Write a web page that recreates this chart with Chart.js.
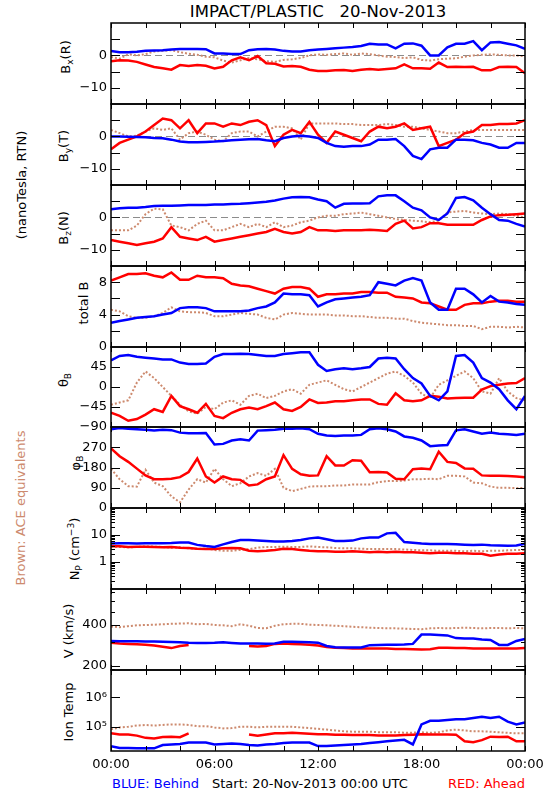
<!DOCTYPE html>
<html><head><meta charset="utf-8">
<script src="https://cdn.jsdelivr.net/npm/chart.js@4.4.1/dist/chart.umd.min.js"></script>
<style>
body{margin:0;background:#fff;}
#wrap{position:relative;width:550px;height:800px;overflow:hidden;background:#fff;font-family:"DejaVu Sans",sans-serif;color:#000;}
#wrap canvas{position:absolute;left:0;}
.t{position:absolute;white-space:pre;transform:translate(-50%,-50%);font-size:13px;line-height:1;}
.r{transform:translate(-50%,-50%) rotate(-90deg);}
.t sub{font-size:70%;vertical-align:-0.35em;line-height:0;}
.t sup{font-size:70%;vertical-align:0.55em;line-height:0;}
</style></head>
<body><div id="wrap">
<div class="t" style="left:318px;top:12px;font-size:16.5px">IMPACT/PLASTIC   20-Nov-2013</div>
<div class="t r" style="left:21px;top:185px">(nanoTesla, RTN)</div>
<div class="t r" style="left:20px;top:508px;color:#cd8a6e">Brown: ACE equivalents</div>
<div class="t r" style="left:65px;top:57px">B<sub>x</sub>(R)</div>
<div class="t r" style="left:63px;top:146px">B<sub>y</sub>(T)</div>
<div class="t r" style="left:63px;top:228px">B<sub>z</sub>(N)</div>
<div class="t r" style="left:83px;top:303px">total B</div>
<div class="t r" style="left:63px;top:380px">θ<sub>B</sub></div>
<div class="t r" style="left:75px;top:463px">φ<sub>B</sub></div>
<div class="t r" style="left:74px;top:549px">N<sub>P</sub> (cm<sup>−3</sup>)</div>
<div class="t r" style="left:68px;top:631px">V (km/s)</div>
<div class="t r" style="left:68px;top:712px">Ion Temp</div>
<div class="t" style="left:112px;top:783px;transform:translate(0,-50%);color:#0000ff">BLUE: Behind</div>
<div class="t" style="left:212px;top:783px;transform:translate(0,-50%)">Start: 20-Nov-2013 00:00 UTC</div>
<div class="t" style="left:525px;top:783px;transform:translate(-100%,-50%);color:#ff0000">RED: Ahead</div>
</div>
<script>
// ---------- time axis (hours after 20-Nov-2013 00:00 UTC) ----------
const HOURS = [0,0.5,1,1.5,2,2.5,3,3.5,4,4.5,5,5.5,6,6.5,7,7.5,8,8.5,9,9.5,10,10.5,11,11.5,12,12.5,13,13.5,14,14.5,15,15.5,16,16.5,17,17.5,18,18.5,19,19.5,20,20.5,21,21.5,22,22.5,23,23.5,24];
const X_TICK_HOURS = [0,2,4,6,8,10,12,14,16,18,20,22,24];
const X_LABEL_HOURS = [0,6,12,18,24];
const X_LABELS = ["00:00","06:00","12:00","18:00","00:00"];

// ---------- Bx (R) ----------
const BX_BLUE = [1.4,1.0,1.0,1.1,1.4,1.5,1.6,1.8,2.0,2.0,2.0,1.9,0.6,0.6,0.4,0.4,1.6,1.9,2.0,1.8,1.4,1.2,1.2,1.6,1.8,2.0,2.2,2.4,2.6,2.9,3.6,3.4,3.4,2.2,3.6,3.7,3.0,0.0,0.0,2.5,3.6,3.6,4.4,1.6,4.0,4.1,3.6,3.1,2.0];
const BX_RED = [-1.8,-1.5,-1.6,-2.0,-2.8,-3.6,-4.0,-4.4,-3.0,-3.3,-3.0,-3.2,-4.0,-3.5,-1.5,-0.6,-1.5,-0.2,-2.4,-2.6,-3.4,-3.3,-3.5,-4.4,-4.8,-4.8,-4.6,-4.5,-4.8,-4.4,-4.2,-4.4,-4.2,-4.0,-2.8,-4.0,-4.0,-4.1,-2.2,-3.6,-3.5,-3.6,-3.5,-4.6,-4.6,-3.6,-3.5,-3.6,-5.5];
const BX_ACE = [-0.5,-1.0,0.3,0.0,0.4,1.2,1.4,1.6,1.0,0.5,0.2,-0.4,-0.6,-1.6,-2.2,-1.5,-0.8,-1.2,-1.8,-2.0,-1.4,-1.2,-0.8,0.0,0.3,0.2,0.4,0.6,0.2,0.6,0.4,0.0,-0.4,-0.5,-0.8,-0.6,-1.4,-1.6,-1.2,-1.0,-0.9,-0.4,0.0,0.2,0.3,0.2,0.0,0.0,-0.3];

// ---------- By (T) ----------
const BY_BLUE = [0.0,0.0,-0.1,-0.2,-0.3,-0.5,-0.6,-1.0,-1.6,-1.8,-1.8,-1.7,-1.6,-1.4,-1.2,-1.0,-0.9,-0.8,-1.2,-1.5,-0.5,0.0,0.2,0.0,-0.5,-2.0,-3.0,-3.2,-3.0,-3.0,-2.5,-1.0,-1.0,-0.8,-3.0,-6.0,-7.0,-4.0,-3.5,-3.5,-1.0,-1.0,-1.2,-2.0,-2.5,-3.5,-3.5,-2.0,-2.0];
const BY_RED = [-4.0,-2.0,-1.0,0.0,1.5,3.5,5.5,5.0,2.5,5.0,1.0,4.0,4.0,3.0,4.0,3.5,4.5,5.0,3.5,-3.0,0.5,2.0,1.0,4.5,0.5,-2.0,1.5,0.5,-0.5,-1.5,1.5,3.0,2.5,3.0,4.0,2.0,2.5,3.0,-3.0,-2.0,-1.0,1.0,1.5,3.5,3.5,3.8,3.8,4.0,5.0];
const BY_ACE = [2.0,1.0,0.0,0.2,1.5,2.5,2.0,2.5,-1.0,1.0,1.5,0.5,-1.0,-1.5,1.0,1.5,1.5,0.0,1.5,3.0,3.0,2.5,-1.0,4.0,4.0,4.0,4.0,3.8,3.8,3.5,3.5,3.5,3.8,3.5,3.0,3.0,2.5,2.0,1.5,1.0,1.0,1.5,2.0,2.0,2.0,2.0,2.0,2.0,2.0];

// ---------- Bz (N) ----------
const BZ_BLUE = [2.5,2.8,3.0,3.0,3.2,3.5,3.6,3.6,3.7,3.8,3.8,3.8,4.0,4.0,4.1,4.2,4.4,4.6,4.8,5.2,5.8,6.2,6.3,6.2,5.5,5.0,3.0,4.2,4.3,4.3,4.4,6.5,6.8,6.8,5.0,3.0,2.2,0.0,-0.8,1.2,6.0,6.3,5.3,3.0,1.0,-0.8,-1.0,-2.0,-2.8];
const BZ_RED = [-7.0,-7.5,-8.0,-8.5,-8.0,-7.5,-6.5,-3.0,-6.0,-6.5,-7.0,-6.0,-7.5,-7.0,-6.5,-6.0,-5.5,-5.0,-4.5,-3.5,-4.5,-5.0,-4.5,-3.0,-4.0,-4.0,-4.2,-4.0,-4.0,-4.0,-3.8,-4.0,-4.2,-2.0,-1.0,-3.4,-3.0,-1.8,-1.8,-2.3,-2.3,-2.3,-2.3,-0.8,0.3,0.7,0.8,1.0,1.2];
const BZ_ACE = [-4.0,-4.0,-4.0,-2.5,1.0,2.7,2.5,-2.5,-3.0,-4.0,-2.0,-1.0,-4.0,-4.0,-3.0,-2.0,-3.0,-2.0,-3.0,-1.5,-3.0,-2.5,-1.5,-1.0,0.0,0.5,0.5,1.0,1.2,1.5,1.0,0.5,0.0,-0.5,-0.8,-1.0,-1.2,-1.5,-1.0,1.5,1.8,2.0,1.5,1.2,1.0,1.2,1.0,0.5,0.0];

// ---------- total B ----------
const BT_BLUE = [3.0,3.2,3.4,3.6,3.7,3.8,4.0,4.2,4.8,4.9,4.9,4.8,4.4,4.4,4.4,4.4,4.5,4.8,5.0,5.5,6.6,6.5,6.5,6.4,5.0,5.5,5.9,6.0,6.1,6.2,6.4,8.0,7.8,7.6,8.2,8.5,8.2,5.5,4.6,4.6,7.2,7.2,6.5,5.5,6.3,5.6,5.5,5.3,5.2];
const BT_RED = [8.2,8.6,9.0,9.0,9.1,8.8,8.6,9.2,8.3,8.3,8.8,8.6,8.6,8.5,7.8,7.6,7.5,7.2,6.9,6.6,7.2,7.4,7.4,7.2,6.2,6.5,6.5,6.6,6.6,6.8,6.8,6.7,6.7,6.2,6.1,6.0,5.5,5.4,5.0,4.6,4.6,5.2,5.4,5.4,5.6,5.7,5.7,5.6,5.6];
const BT_ACE = [4.6,4.4,3.8,3.6,3.6,3.8,4.2,4.9,4.4,4.3,4.3,4.2,3.8,3.8,4.0,4.2,4.1,4.0,3.6,3.4,4.0,4.2,4.1,4.0,4.0,4.0,3.9,3.9,3.8,3.8,3.7,3.6,3.6,3.5,3.5,3.2,3.0,2.9,2.8,2.7,2.7,2.6,2.6,2.2,2.5,2.5,2.4,2.5,2.4];

// ---------- theta B (deg) ----------
const TH_BLUE = [60,70,72,68,66,64,62,62,55,52,52,53,68,74,74,75,74,72,70,70,74,76,78,78,50,36,40,42,40,42,45,64,66,64,40,20,8,-20,-30,-10,70,72,55,20,10,-5,-30,-50,-20];
const TH_RED = [-58,-65,-76,-72,-62,-50,-56,-20,-43,-50,-58,-38,-65,-70,-58,-50,-46,-50,-43,-35,-50,-54,-45,-28,-36,-35,-32,-32,-30,-28,-28,-38,-40,-14,-30,-32,-30,-20,-22,-26,-25,-24,-24,-6,2,5,8,9,20];
const TH_ACE = [-40,-35,-30,10,35,20,0,-20,-40,-55,-60,-45,-50,-35,-30,-40,-20,-15,-25,-20,-10,-5,-15,5,10,15,5,-5,-10,0,10,20,30,35,25,10,-15,-25,5,15,25,35,20,-10,-15,20,-10,-25,-30];

// ---------- phi B (deg) ----------
const PH_BLUE = [350,355,352,350,348,345,348,346,335,332,332,333,282,285,300,305,300,344,346,348,352,352,354,350,330,322,320,322,322,325,350,354,350,340,318,312,300,275,278,280,345,350,340,330,335,330,328,325,330];
const PH_RED = [265,230,205,175,145,128,128,130,137,160,220,140,113,140,128,125,100,105,128,140,235,174,150,143,145,230,189,189,212,210,159,160,158,130,128,172,175,172,250,205,200,176,174,145,143,143,142,140,137];
const PH_ACE = [174,128,97,95,170,113,97,52,25,82,128,113,174,128,97,110,140,155,143,174,90,75,85,95,97,97,100,100,105,105,105,115,120,120,122,128,128,130,128,143,143,140,113,110,95,90,90,88,90];

// ---------- proton density (cm^-3) ----------
const NP_BLUE = [4.8,4.9,4.9,4.8,4.9,5.0,5.0,5.1,5.3,5.3,4.3,3.9,3.6,4.5,5.5,6.5,6.5,6.3,6.0,5.8,5.8,6.0,6.5,7.5,8.0,7.0,6.0,6.0,6.2,7.5,8.0,8.0,11.5,12.0,5.5,5.2,4.8,4.6,4.6,4.6,4.5,4.4,4.3,4.4,4.2,4.1,4.0,4.1,4.8];
const NP_RED = [3.8,3.8,3.6,3.7,3.7,3.6,3.5,3.6,3.4,3.3,3.1,3.0,3.0,3.2,3.3,3.2,2.6,2.5,2.6,2.8,3.1,3.0,2.8,2.6,2.5,2.5,2.4,2.4,2.5,2.4,2.3,2.4,2.3,2.4,2.3,2.3,2.2,2.1,2.2,2.2,2.1,2.1,2.0,2.0,1.7,1.9,2.0,2.0,2.1];
const NP_ACE = [3.8,3.6,3.5,3.6,3.8,3.7,3.6,3.4,3.5,3.2,3.0,3.2,2.8,2.6,2.6,2.8,3.0,3.4,3.6,3.6,3.7,3.6,3.6,3.8,3.6,3.5,3.3,3.2,3.2,3.1,3.0,3.0,3.0,3.0,2.9,2.8,2.7,2.7,2.6,2.6,2.6,2.5,2.6,2.5,2.6,2.6,2.7,2.8,2.8];

// ---------- bulk speed (km/s) ----------
const V_BLUE = [305,304,304,303,302,302,301,300,298,296,295,295,296,298,295,292,292,292,291,292,301,301,300,298,296,280,274,273,273,273,284,285,286,286,287,290,340,340,337,335,320,318,318,312,310,285,285,305,315];
const V_RED = [296,292,290,288,286,282,276,270,280,285,null,null,null,null,null,null,280,278,280,290,292,290,288,286,282,275,272,270,268,268,268,268,268,266,266,265,264,265,272,272,270,270,268,268,268,268,268,268,270];
const V_ACE = [390,385,392,398,400,402,405,408,410,412,405,408,400,398,392,405,395,380,378,395,405,408,408,402,400,398,395,392,388,385,382,380,378,378,376,374,372,378,380,378,380,382,380,378,380,380,378,380,378];

// ---------- ion temperature (K) ----------
const T_BLUE = [2.2e4,1.9e4,1.9e4,1.85e4,1.85e4,1.85e4,2.4e4,2.5e4,2.6e4,2.9e4,2.9e4,2.9e4,2.5e4,2.6e4,2.7e4,2.6e4,2.4e4,2.3e4,2.5e4,2.6e4,2.8e4,2.9e4,2.9e4,2.9e4,2.2e4,2.2e4,2.3e4,2.4e4,2.5e4,2.6e4,2.8e4,3.0e4,3.2e4,3.4e4,3.6e4,2.5e4,1.2e5,1.6e5,1.6e5,1.7e5,1.8e5,1.8e5,2.0e5,2.2e5,2.0e5,2.2e5,1.5e5,1.2e5,1.4e5];
const T_RED = [6.0e4,5.5e4,5.5e4,5.0e4,4.2e4,4.0e4,4.5e4,4.6e4,4.4e4,6.0e4,null,null,null,null,null,null,5.5e4,5.0e4,5.5e4,6.0e4,6.0e4,6.2e4,6.0e4,5.8e4,5.6e4,5.6e4,5.4e4,5.3e4,5.2e4,5.2e4,5.2e4,5.0e4,5.0e4,5.0e4,5.2e4,5.4e4,5.6e4,5.5e4,5.5e4,5.5e4,5.4e4,3.2e4,3.0e4,3.5e4,4.6e4,4.5e4,4.6e4,3.2e4,3.2e4];
const T_ACE = [8.2e4,9.5e4,1.0e5,1.1e5,1.15e5,1.1e5,1.15e5,1.2e5,1.2e5,1.15e5,1.05e5,1.05e5,9.5e4,8.8e4,9.0e4,1.0e5,1.0e5,9.5e4,1.0e5,1.0e5,1.0e5,1.0e5,9.5e4,9.0e4,8.5e4,8.0e4,7.5e4,7.0e4,6.8e4,6.8e4,6.8e4,6.5e4,6.5e4,6.5e4,6.3e4,6.3e4,6.5e4,6.2e4,6.5e4,7.5e4,8.0e4,7.5e4,7.0e4,7.0e4,6.8e4,6.5e4,6.2e4,6.0e4,6.0e4];

// ---------- y tick values / labels ----------
const B_LABELS = [0,-10];                 const B_TEXT = ["0","−10"];
const B_MAJOR = [5,0,-5,-10];
const BT_LABELS = [8,4,0];                const BT_TEXT = ["8","4","0"];
const BT_MAJOR = [2,4,6,8];
const TH_LABELS = [45,0,-45,-90];         const TH_TEXT = ["45","0","−45","−90"];
const TH_MAJOR = [45,0,-45];
const PH_LABELS = [270,180,90,0];         const PH_TEXT = ["270","180","90","0"];
const PH_MAJOR = [90,180,270];
const NP_LABELS = [10,1];                 const NP_TEXT = ["10","1"];
const NP_MAJOR = [1,10];
const NP_MINOR = [0.2,0.3,0.4,0.5,0.6,0.7,0.8,0.9,2,3,4,5,6,7,8,9,20,30,40,50,60,70,80,90];
const V_LABELS = [400,200];               const V_TEXT = ["400","200"];
const V_MAJOR = [200,400];
const V_MINOR = [190,300,500,600,700];
const T_LABELS = [1e6,1e5];               const T_TEXT = ["10⁶","10⁵"];
const T_MAJOR = [1e5,1e6];

// ---------- styling / layout ----------
const COL_BLUE = '#0000ff', COL_RED = '#ff0000', COL_ACE = '#cd8a6e', COL_ZERO = '#8c8c8c';
const EDGES = [23,104,185,266,347,427,508,589,670,751];
const FONT = {family: 'DejaVu Sans', size: 13};

const PANELS = [
  {type:'linear', min:-15, max:10, s:[BX_BLUE,BX_RED,BX_ACE], lab:B_LABELS, txt:B_TEXT, major:B_MAJOR, minor:[], zero:true},
  {type:'linear', min:-15, max:10, s:[BY_BLUE,BY_RED,BY_ACE], lab:B_LABELS, txt:B_TEXT, major:B_MAJOR, minor:[], zero:true},
  {type:'linear', min:-15, max:10, s:[BZ_BLUE,BZ_RED,BZ_ACE], lab:B_LABELS, txt:B_TEXT, major:B_MAJOR, minor:[], zero:true},
  {type:'linear', min:0, max:10, s:[BT_BLUE,BT_RED,BT_ACE], lab:BT_LABELS, txt:BT_TEXT, major:BT_MAJOR, minor:[]},
  {type:'linear', min:-90, max:90, s:[TH_BLUE,TH_RED,TH_ACE], lab:TH_LABELS, txt:TH_TEXT, major:TH_MAJOR, minor:[]},
  {type:'linear', min:0, max:360, s:[PH_BLUE,PH_RED,PH_ACE], lab:PH_LABELS, txt:PH_TEXT, major:PH_MAJOR, minor:[]},
  {type:'logarithmic', min:0.1, max:100, s:[NP_BLUE,NP_RED,NP_ACE], lab:NP_LABELS, txt:NP_TEXT, major:NP_MAJOR, minor:NP_MINOR},
  {type:'logarithmic', min:186, max:738, s:[V_BLUE,V_RED,V_ACE], lab:V_LABELS, txt:V_TEXT, major:V_MAJOR, minor:V_MINOR},
  {type:'logarithmic', min:1.5e4, max:8.5e6, s:[T_BLUE,T_RED,T_ACE], lab:T_LABELS, txt:T_TEXT, major:T_MAJOR, minor:[]}
];

function points(vals) { return HOURS.map((h, i) => ({x: h, y: vals[i]})); }

function framePlugin(p) {
  return {
    id: 'frameTicks',
    beforeDatasetsDraw(chart) {
      if (!p.zero) return;
      const {ctx, chartArea: a} = chart;
      const py = Math.round(chart.scales.y.getPixelForValue(0)) + 0.5;
      ctx.save();
      ctx.strokeStyle = COL_ZERO; ctx.lineWidth = 1; ctx.setLineDash([7, 4]);
      ctx.beginPath(); ctx.moveTo(a.left, py); ctx.lineTo(a.right, py); ctx.stroke();
      ctx.restore();
    },
    afterDatasetsDraw(chart) {
      const {ctx, chartArea: a} = chart;
      const xs = chart.scales.x, ys = chart.scales.y;
      ctx.save();
      ctx.strokeStyle = '#000'; ctx.lineWidth = 1;
      ctx.beginPath();
      X_TICK_HOURS.forEach(h => {
        const px = Math.round(xs.getPixelForValue(h)) + 0.5;
        ctx.moveTo(px, a.top); ctx.lineTo(px, a.top + 5);
        ctx.moveTo(px, a.bottom); ctx.lineTo(px, a.bottom - 5);
      });
      const yt = (v, len) => {
        const py = Math.round(ys.getPixelForValue(v)) + 0.5;
        ctx.moveTo(a.left, py); ctx.lineTo(a.left + len, py);
        ctx.moveTo(a.right, py); ctx.lineTo(a.right - len, py);
      };
      p.major.forEach(v => yt(v, 9));
      p.minor.forEach(v => yt(v, 4));
      ctx.stroke();
      ctx.lineWidth = 1.5;
      ctx.strokeRect(a.left, a.top, a.right - a.left, a.bottom - a.top);
      ctx.restore();
    }
  };
}

const wrap = document.getElementById('wrap');
PANELS.forEach((p, i) => {
  const top = EDGES[i], bottom = EDGES[i + 1];
  const last = i === PANELS.length - 1;
  const PADT = 14, PADB = last ? 2 : 14, XH = last ? 26 : 0;
  const h = PADT + (bottom - top) + XH + PADB;
  const cv = document.createElement('canvas');
  cv.width = 550; cv.height = h;
  cv.style.width = '550px'; cv.style.height = h + 'px';
  cv.style.top = (top - PADT) + 'px';
  wrap.appendChild(cv);
  new Chart(cv, {
    type: 'line',
    data: {
      datasets: [
        {data: points(p.s[0]), borderColor: COL_BLUE, borderWidth: 2.5, pointRadius: 0, tension: 0, spanGaps: false},
        {data: points(p.s[1]), borderColor: COL_RED, borderWidth: 2.5, pointRadius: 0, tension: 0, spanGaps: false},
        {data: points(p.s[2]), borderColor: COL_ACE, borderWidth: 2, borderDash: [2, 2], pointRadius: 0, tension: 0, spanGaps: false}
      ]
    },
    options: {
      responsive: false, animation: false, events: [], devicePixelRatio: 1,
      layout: {padding: {left: 0, right: 25, top: PADT, bottom: PADB}},
      plugins: {legend: {display: false}, tooltip: {enabled: false}, title: {display: false}},
      scales: {
        x: {
          type: 'linear', min: 0, max: 24, display: last,
          grid: {display: false, drawTicks: false}, border: {display: false},
          afterBuildTicks: s => { s.ticks = X_LABEL_HOURS.map(v => ({value: v})); },
          afterFit: s => { s.height = XH; },
          ticks: {autoSkip: false, maxRotation: 0, padding: 6, color: '#000', font: FONT,
                  callback: (v, idx) => X_LABELS[idx]}
        },
        y: {
          type: p.type, min: p.min, max: p.max,
          grid: {display: false, drawTicks: false}, border: {display: false},
          afterBuildTicks: s => { s.ticks = p.lab.map(v => ({value: v})); },
          afterFit: s => { s.width = 111; },
          ticks: {autoSkip: false, padding: 4, color: '#000', font: FONT,
                  callback: (v, idx) => p.txt[idx]}
        }
      }
    },
    plugins: [framePlugin(p)]
  });
});
</script>
</body></html>
